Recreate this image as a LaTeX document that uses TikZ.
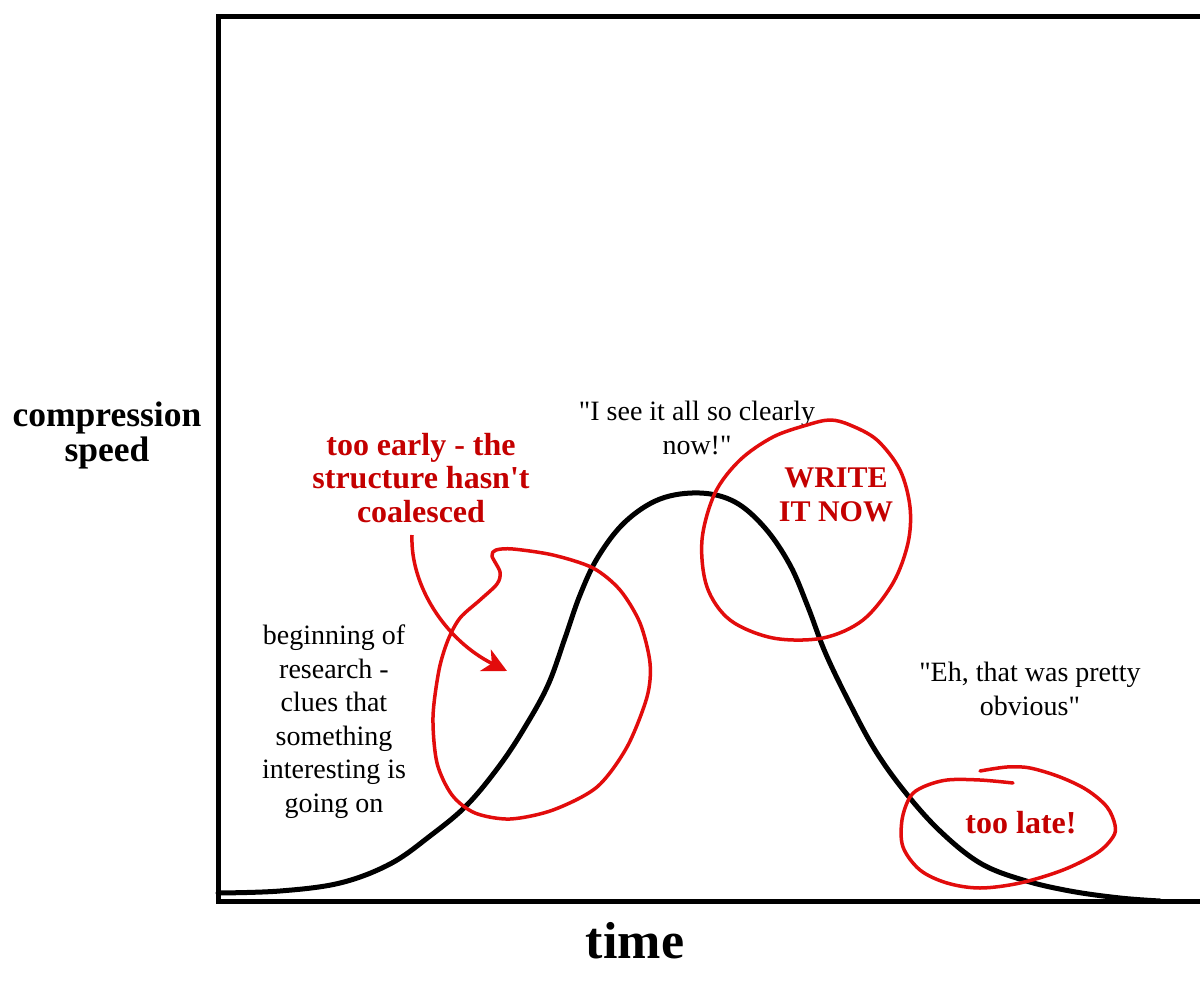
\documentclass[tikz,border=0pt]{standalone}
\usepackage{fontspec}
\setmainfont{Liberation Serif}[Ligatures=TeXOff]
\usetikzlibrary{arrows.meta}
\definecolor{redline}{RGB}{226,12,12}
\definecolor{redtext}{RGB}{196,0,0}
\begin{document}
\begin{tikzpicture}[x=1pt,y=-1pt,
  plaintxt/.style={font=\fontsize{28}{33.5}\selectfont, align=center, inner sep=0pt, anchor=base},
  redtxt/.style={font=\fontsize{32}{33.5}\selectfont\bfseries, text=redtext, align=center, inner sep=0pt, anchor=base},
  axistxt/.style={font=\fontsize{35.5}{35}\selectfont\bfseries, align=center, inner sep=0pt, anchor=base},
  frame/.style={line width=5pt, line join=miter},
  curve/.style={line width=5pt, line cap=round},
  redloop/.style={draw=redline, line width=3.5pt, line cap=round, line join=round},
]
\useasboundingbox (0,0) rectangle (1200,985);
\fill[white] (0,0) rectangle (1200,985);

% frame (open at the right)
\draw[frame] (1200,16) -- (218,16) -- (218,901) -- (1200,901);

% black bell curve
\draw[curve] plot[smooth, tension=0.6] coordinates {
 (218,893) (280,891) (340,883) (390,864) (430,836) (467,805) (500,765)
 (525,727) (548,685) (565,638) (580,595) (598,557) (625,522) (660,499)
 (700,493) (735,502) (765,528) (790,565) (808,607) (825,652) (848,700)
 (875,750) (905,792) (940,831) (980,863) (1023,880) (1070,891) (1120,898)
 (1160,901)};

% texts (anchor = baseline of the last line)
\node[axistxt] (ylab) at (107,461) {compression\\speed};
\node[axistxt, font=\fontsize{52}{52}\selectfont\bfseries] (xlab) at (635,958) {time};
\node[redtxt] (early) at (421,522) {too early - the\\structure hasn't\\coalesced};
\node[plaintxt] (clear) at (697,454) {"I see it all so clearly\\now!"};
\node[redtxt, font=\fontsize{30}{33.5}\selectfont\bfseries] (write) at (836,521) {WRITE\\IT NOW};
\node[plaintxt] (begin) at (334,812) {beginning of\\research -\\clues that\\something\\interesting is\\going on};
\node[plaintxt] (eh) at (1030,715) {"Eh, that was pretty\\obvious"};
\node[redtxt] (late) at (1021,833) {too late!};

% red loop around the early rise
\draw[redloop] plot[smooth cycle, tension=0.5] coordinates {
 (492,556) (500,572) (497,584) (480,600) (460,618) (448,640) (439,670)
 (433,717) (437,763) (452,795) (475,813) (510,819) (553,810) (597,787)
 (627,747) (647,697) (650,663) (640,623) (620,590) (593,568) (553,555)
 (513,549) (496,550)};

% red loop around the peak
\draw[redloop] plot[smooth cycle, tension=0.55] coordinates {
 (830,420) (807,425) (773,437) (740,460) (715,493) (702,540) (707,587)
 (730,620) (773,638) (823,638) (863,620) (893,583) (908,543) (910,507)
 (900,470) (877,440) (850,425)};

% red loop around "too late!"
\draw[redloop] plot[smooth, tension=0.55] coordinates {
 (1013,783) (980,780) (947,780) (923,787) (910,797) (902,820) (903,847)
 (920,870) (947,883) (980,888) (1020,883) (1063,870) (1097,853) (1113,837)
 (1115,825) (1107,807) (1087,790) (1060,777) (1030,768) (1007,767) (980,771)};

% arrow from the "too early" label
\coordinate (arrstart) at (412,535);
\coordinate (arrtip) at (507,671);
\draw[draw=redline, line width=3.5pt, -{Stealth[length=24pt, width=24pt, inset=7pt, fill=redline]}]
  (arrstart) .. controls (410,585) and (445,640) .. (arrtip);
\end{tikzpicture}
\end{document}
